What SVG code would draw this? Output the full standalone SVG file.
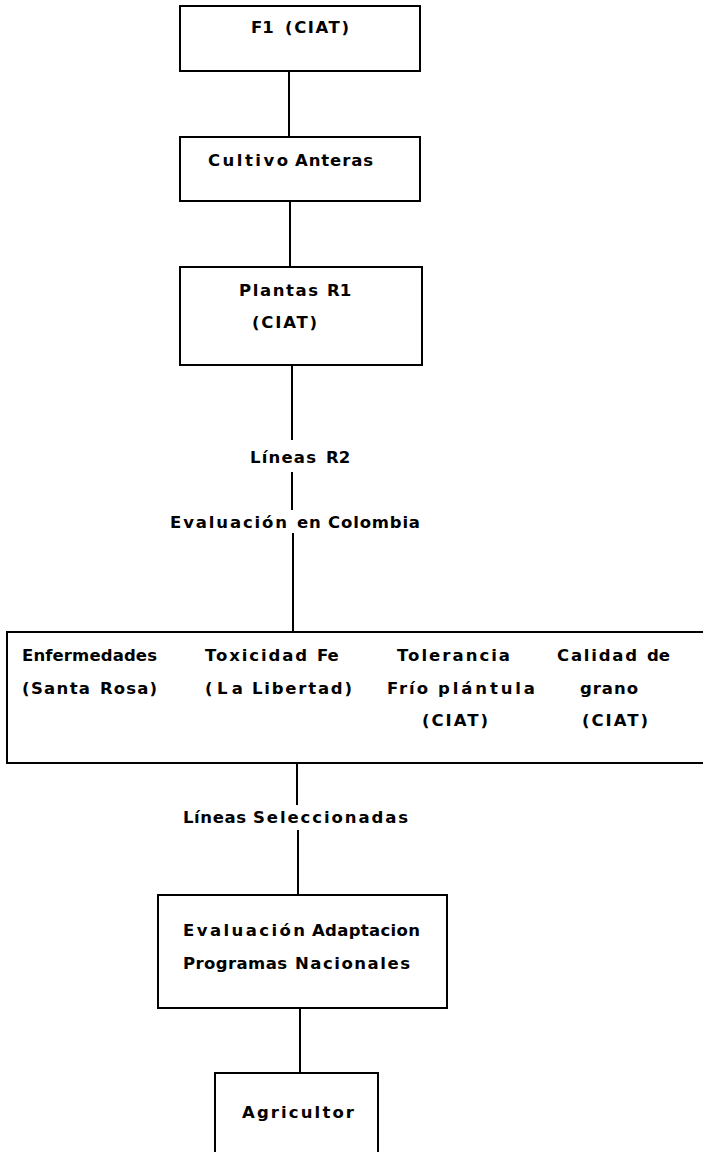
<svg xmlns="http://www.w3.org/2000/svg" width="703" height="1152" viewBox="0 0 703 1152">
<style>
.b{fill:none;stroke:#000;stroke-width:2}
.c{fill:none;stroke:#000;stroke-width:2}
text{font-family:"DejaVu Sans","Liberation Sans",sans-serif;font-weight:bold;font-size:16.5px;fill:#000}
</style>
<rect width="703" height="1152" fill="#fff"/>
<g id="connectors">
<line class="c" x1="289" y1="71" x2="289" y2="137"/>
<line class="c" x1="290" y1="201" x2="290" y2="267"/>
<line class="c" x1="292" y1="365" x2="292" y2="440"/>
<line class="c" x1="292" y1="472" x2="292" y2="510"/>
<line class="c" x1="293" y1="533" x2="293" y2="632"/>
<line class="c" x1="297" y1="763" x2="297" y2="805"/>
<line class="c" x1="298" y1="830" x2="298" y2="895"/>
<line class="c" x1="300" y1="1008" x2="300" y2="1073"/>
</g>
<g id="n1"><rect class="b" x="180" y="6" width="240" height="65"/>
<text y="33"><tspan x="251">F1</tspan> <tspan x="285" textLength="64">(CIAT)</tspan></text></g>
<g id="n2"><rect class="b" x="180" y="137" width="240" height="64"/>
<text y="166"><tspan x="208" textLength="80">Cultivo</tspan> <tspan x="295" textLength="78">Anteras</tspan></text></g>
<g id="n3"><rect class="b" x="180" y="267" width="242" height="98"/>
<text y="296"><tspan x="239" textLength="79">Plantas</tspan> <tspan x="327">R1</tspan></text>
<text x="252" y="328" textLength="65">(CIAT)</text></g>
<g id="l1"><text y="463"><tspan x="250" textLength="66">Líneas</tspan> <tspan x="326">R2</tspan></text></g>
<g id="l2"><text y="528"><tspan x="170" textLength="117">Evaluación</tspan> <tspan x="297" textLength="123">en Colombia</tspan></text></g>
<g id="n4"><path class="b" d="M710,632 H7 V763 H710"/>
<text x="22" y="661" textLength="135">Enfermedades</text>
<text y="694"><tspan x="22" textLength="68">(Santa</tspan> <tspan x="100" textLength="57">Rosa)</tspan></text>
<text y="661"><tspan x="205" textLength="102">Toxicidad</tspan> <tspan x="317">Fe</tspan></text>
<text y="694"><tspan x="205" textLength="38">(La</tspan> <tspan x="252" textLength="100">Libertad)</tspan></text>
<text x="397" y="661" textLength="113">Tolerancia</text>
<text y="694"><tspan x="387" textLength="41">Frío</tspan> <tspan x="438" textLength="97">plántula</tspan></text>
<text x="422" y="726" textLength="66">(CIAT)</text>
<text y="661"><tspan x="557" textLength="80">Calidad</tspan> <tspan x="647">de</tspan></text>
<text x="580" y="694" textLength="58">grano</text>
<text x="582" y="726" textLength="66">(CIAT)</text>
</g>
<g id="l3"><text y="823"><tspan x="183" textLength="63">Líneas</tspan> <tspan x="253" textLength="155">Seleccionadas</tspan></text></g>
<g id="n5"><rect class="b" x="158" y="895" width="289" height="113"/>
<text y="936"><tspan x="183" textLength="122">Evaluación</tspan> <tspan x="312" textLength="108">Adaptacion</tspan></text>
<text y="969"><tspan x="183" textLength="104">Programas</tspan> <tspan x="295" textLength="115">Nacionales</tspan></text></g>
<g id="n6"><path class="b" d="M215,1152 V1073 H378 V1152"/>
<text x="242" y="1118" textLength="112">Agricultor</text></g>
</svg>
